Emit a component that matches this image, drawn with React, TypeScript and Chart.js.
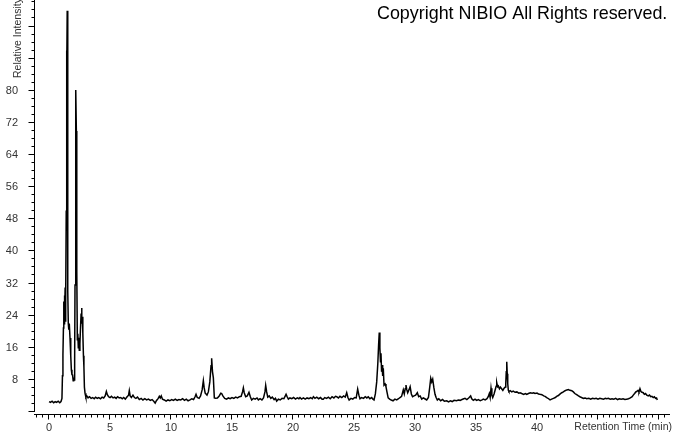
import { useEffect, useRef } from "react";
import { Chart, registerables } from "chart.js";

Chart.register(...registerables);

// Retention time (min)
const retentionTimes: number[] = [
  0.00, 0.12, 0.25, 0.38, 0.50, 0.62, 0.75, 0.88, 0.98, 1.06,
  1.10, 1.14, 1.18, 1.21, 1.23, 1.26, 1.29, 1.32, 1.35, 1.38,
  1.41, 1.44, 1.46, 1.49, 1.52, 1.55, 1.58, 1.62, 1.66, 1.72,
  1.78, 1.83, 1.88, 1.93, 1.98, 2.02, 2.06, 2.10, 2.13, 2.17,
  2.21, 2.24, 2.26, 2.29, 2.32, 2.36, 2.40, 2.44, 2.48, 2.53,
  2.58, 2.63, 2.67, 2.70, 2.73, 2.77, 2.82, 2.86, 2.90, 2.95,
  3.02, 3.10, 3.20, 3.32, 3.45, 3.58, 3.70, 3.82, 3.95, 4.08,
  4.22, 4.35, 4.48, 4.60, 4.70, 4.78, 4.88, 5.00, 5.12, 5.25,
  5.38, 5.50, 5.62, 5.75, 5.88, 6.00, 6.12, 6.25, 6.40, 6.52,
  6.58, 6.65, 6.75, 6.88, 7.00, 7.12, 7.25, 7.40, 7.55, 7.70,
  7.85, 8.00, 8.15, 8.30, 8.45, 8.60, 8.70, 8.80, 8.95, 9.04,
  9.12, 9.20, 9.30, 9.45, 9.60, 9.75, 9.90, 10.05, 10.20, 10.35,
  10.50, 10.65, 10.80, 10.95, 11.10, 11.25, 11.40, 11.56, 11.70, 11.85,
  11.97, 12.05, 12.15, 12.30, 12.42, 12.55, 12.65, 12.72, 12.80, 12.87,
  12.95, 13.06, 13.18, 13.28, 13.33, 13.40, 13.47, 13.55, 13.65, 13.80,
  13.95, 14.08, 14.15, 14.25, 14.40, 14.56, 14.70, 14.85, 15.00, 15.15,
  15.30, 15.45, 15.60, 15.75, 15.86, 15.93, 16.00, 16.12, 16.25, 16.39,
  16.50, 16.61, 16.75, 16.90, 17.05, 17.16, 17.30, 17.45, 17.58, 17.70,
  17.76, 17.84, 17.93, 18.05, 18.18, 18.30, 18.45, 18.56, 18.66, 18.80,
  18.95, 19.10, 19.25, 19.43, 19.52, 19.62, 19.75, 19.90, 20.05, 20.20,
  20.35, 20.48, 20.57, 20.70, 20.85, 21.00, 21.15, 21.30, 21.45, 21.58,
  21.67, 21.80, 21.95, 22.10, 22.25, 22.38, 22.48, 22.60, 22.75, 22.90,
  23.05, 23.20, 23.35, 23.48, 23.58, 23.72, 23.85, 24.00, 24.15, 24.28,
  24.40, 24.50, 24.60, 24.75, 24.90, 25.05, 25.18, 25.30, 25.40, 25.49,
  25.62, 25.78, 25.92, 26.05, 26.17, 26.30, 26.45, 26.55, 26.64, 26.75,
  26.86, 26.95, 27.02, 27.07, 27.12, 27.17, 27.21, 27.26, 27.30, 27.35,
  27.40, 27.46, 27.55, 27.62, 27.70, 27.80, 27.92, 28.05, 28.20, 28.35,
  28.50, 28.65, 28.77, 28.90, 29.04, 29.12, 29.20, 29.26, 29.33, 29.40,
  29.50, 29.60, 29.70, 29.80, 29.92, 30.05, 30.19, 30.30, 30.42, 30.55,
  30.68, 30.80, 30.96, 31.10, 31.20, 31.29, 31.37, 31.45, 31.55, 31.64,
  31.73, 31.83, 31.95, 32.10, 32.25, 32.40, 32.60, 32.75, 32.90, 33.05,
  33.20, 33.42, 33.55, 33.70, 33.85, 34.00, 34.10, 34.25, 34.40, 34.56,
  34.65, 34.78, 34.92, 35.05, 35.20, 35.35, 35.50, 35.60, 35.75, 35.90,
  36.00, 36.09, 36.16, 36.23, 36.30, 36.37, 36.48, 36.58, 36.65, 36.70,
  36.77, 36.83, 36.92, 37.00, 37.10, 37.20, 37.30, 37.40, 37.44, 37.48,
  37.52, 37.56, 37.60, 37.65, 37.70, 37.80, 37.93, 38.05, 38.20, 38.35,
  38.50, 38.61, 38.75, 38.90, 39.05, 39.16, 39.30, 39.45, 39.60, 39.72,
  39.84, 40.00, 40.12, 40.25, 40.40, 40.55, 40.66, 40.80, 40.95, 41.07,
  41.20, 41.35, 41.50, 41.61, 41.75, 41.90, 42.03, 42.16, 42.30, 42.45,
  42.57, 42.70, 42.85, 42.98, 43.10, 43.25, 43.40, 43.52, 43.65, 43.80,
  43.95, 44.07, 44.25, 44.40, 44.55, 44.70, 44.85, 45.00, 45.15, 45.30,
  45.45, 45.60, 45.71, 45.85, 46.00, 46.15, 46.30, 46.45, 46.60, 46.75,
  46.90, 47.05, 47.20, 47.35, 47.50, 47.65, 47.80, 47.89, 48.00, 48.10,
  48.17, 48.28, 48.36, 48.44, 48.52, 48.60, 48.71, 48.80, 48.90, 49.00,
  49.12, 49.22, 49.32, 49.42, 49.53, 49.62, 49.72, 49.80, 49.86,
];

// Relative intensity
const relativeIntensity: number[] = [
  2.6, 2.4, 2.7, 2.3, 2.6, 2.4, 2.7, 2.3, 2.6, 3.4,
  9.0, 14.2, 20.9, 27.5, 22.0, 29.0, 23.5, 31.0, 22.5, 28.0,
  50.0, 90.0, 84.0, 99.9, 56.5, 30.0, 22.0, 20.5, 22.0, 18.4,
  14.0, 10.5, 9.3, 9.2, 7.8, 8.6, 8.0, 13.0, 31.6, 55.0,
  80.2, 70.0, 67.3, 35.0, 18.0, 19.5, 16.0, 18.5, 15.4, 17.0,
  21.0, 24.5, 25.9, 22.0, 23.7, 19.7, 14.0, 11.2, 6.2, 4.7,
  3.7, 4.0, 3.5, 3.8, 3.4, 3.6, 3.3, 3.7, 3.4, 3.6,
  3.3, 3.7, 3.5, 4.0, 5.1, 4.3, 3.8, 3.6, 3.9, 3.5,
  3.7, 3.4, 3.8, 3.5, 3.6, 3.3, 3.6, 3.2, 3.8, 4.2,
  5.3, 4.0, 3.6, 4.2, 3.6, 3.4, 3.7, 3.1, 3.4, 3.0,
  3.3, 3.0, 3.2, 2.9, 3.1, 2.6, 2.2, 2.8, 3.4, 3.9,
  3.5, 4.0, 3.2, 3.0, 2.7, 3.0, 2.8, 3.1, 2.9, 3.2,
  2.9, 3.1, 3.0, 3.3, 2.9, 3.2, 2.8, 3.0, 3.3, 3.1,
  3.8, 4.4, 3.6, 3.4, 4.0, 5.5, 7.8, 6.0, 4.7, 4.5,
  4.2, 5.0, 7.5, 11.5, 13.4, 10.0, 8.5, 3.5, 3.4, 3.5,
  4.0, 4.7, 4.6, 4.0, 3.4, 3.2, 3.5, 3.3, 3.6, 3.4,
  3.7, 3.5, 3.8, 3.9, 5.0, 6.0, 4.8, 3.8, 4.0, 4.9,
  3.8, 3.0, 3.4, 3.2, 3.5, 3.0, 3.3, 3.0, 3.5, 5.0,
  6.6, 5.0, 3.7, 4.0, 3.4, 3.7, 3.1, 3.4, 2.7, 3.2,
  3.0, 3.4, 3.3, 4.4, 3.8, 3.2, 3.5, 3.3, 3.6, 3.2,
  3.5, 3.3, 3.6, 3.2, 3.5, 3.2, 3.5, 3.3, 3.6, 3.3,
  3.8, 3.4, 3.7, 3.3, 3.6, 3.2, 3.2, 3.6, 3.4, 3.7,
  3.3, 3.8, 3.5, 3.9, 3.8, 3.5, 3.9, 3.6, 4.0, 3.7,
  4.8, 3.6, 3.0, 3.4, 3.2, 3.6, 3.5, 5.7, 4.2, 3.3,
  3.6, 3.4, 3.8, 3.5, 3.8, 3.3, 3.6, 3.2, 3.0, 4.5,
  7.5, 12.0, 17.0, 19.8, 16.0, 12.5, 14.6, 10.0, 11.7, 9.0,
  10.9, 6.7, 7.0, 6.3, 5.0, 3.5, 3.2, 3.0, 2.8, 3.2,
  3.0, 3.3, 3.6, 3.9, 5.5, 4.5, 5.8, 6.7, 5.5, 4.8,
  5.5, 6.3, 4.5, 3.8, 4.0, 4.2, 4.8, 3.8, 4.0, 3.2,
  3.5, 3.3, 3.0, 3.6, 6.0, 8.4, 7.5, 8.2, 6.0, 4.4,
  3.6, 3.0, 3.3, 2.8, 3.1, 2.7, 2.8, 2.5, 2.8, 2.6,
  2.9, 2.8, 3.0, 2.9, 3.1, 3.3, 3.4, 3.1, 3.5, 4.0,
  3.3, 2.9, 3.2, 2.9, 3.1, 2.8, 3.0, 3.2, 3.0, 3.3,
  3.8, 4.6, 3.6, 5.9, 4.2, 3.6, 4.5, 5.6, 6.4, 7.3,
  6.3, 6.5, 5.8, 6.2, 5.8, 5.4, 5.9, 6.2, 7.1, 10.0,
  12.5, 9.5, 7.1, 5.4, 5.1, 5.3, 5.0, 5.2, 4.9, 5.0,
  4.7, 4.8, 4.6, 4.4, 4.6, 4.4, 4.6, 4.8, 4.7, 4.8,
  4.6, 4.7, 4.5, 4.4, 4.3, 4.0, 3.9, 3.6, 3.3, 3.0,
  3.2, 3.4, 3.6, 3.9, 4.1, 4.5, 4.8, 5.0, 5.3, 5.5,
  5.6, 5.4, 5.3, 5.0, 4.6, 4.3, 4.0, 3.8, 3.6, 3.4,
  3.5, 3.3, 3.4, 3.2, 3.4, 3.3, 3.4, 3.2, 3.4, 3.3,
  3.2, 3.4, 3.3, 3.4, 3.2, 3.3, 3.2, 3.4, 3.1, 3.3,
  3.2, 3.3, 3.1, 3.2, 3.3, 3.5, 3.8, 4.2, 4.6, 5.0,
  5.1, 5.4, 5.0, 5.8, 5.1, 4.9, 4.8, 4.4, 4.6, 4.2,
  4.0, 4.2, 3.8, 3.9, 3.6, 3.8, 3.4, 3.5, 3.0,
];

const xTickLabels: number[] = [0, 5, 10, 15, 20, 25, 30, 35, 40];
const yTickLabels: number[] = [8, 16, 24, 32, 40, 48, 56, 64, 72, 80];

const xAxisTitle = "Retention Time (min)";
const yAxisTitle = "Relative Intensity";
const copyrightText = "Copyright NIBIO All Rights reserved.";

const FONT = '"Liberation Sans", Arial, sans-serif';

const axesPlugin = {
  id: "chromAxes",
  afterDraw(chart: any) {
    const { ctx, chartArea } = chart;
    const xs = chart.scales.x;
    const ys = chart.scales.y;
    ctx.save();
    ctx.strokeStyle = "#000";
    ctx.lineWidth = 1;

    // y axis line
    const axX = chartArea.left - 0.5;
    ctx.beginPath();
    ctx.moveTo(axX, 0);
    ctx.lineTo(axX, chartArea.bottom);
    ctx.stroke();

    // y ticks every 2, longer every 8
    for (let v = 0; v <= ys.max; v += 2) {
      const py = Math.round(ys.getPixelForValue(v)) - 0.5;
      const len = v % 8 === 0 ? 6 : 3;
      ctx.beginPath();
      ctx.moveTo(axX - len, py);
      ctx.lineTo(axX, py);
      ctx.stroke();
    }

    // x axis line
    const axY = chartArea.bottom + 2.5;
    ctx.beginPath();
    ctx.moveTo(chartArea.left - 1, axY);
    ctx.lineTo(chartArea.right + 1, axY);
    ctx.stroke();

    // x ticks every 0.5, longer every 5
    for (let i = 0; i <= 102; i++) {
      const v = i * 0.5;
      if (v > xs.max) break;
      const px = Math.round(xs.getPixelForValue(v)) - 0.5;
      const len = i % 10 === 0 ? 5 : 3;
      ctx.beginPath();
      ctx.moveTo(px, axY);
      ctx.lineTo(px, axY + len);
      ctx.stroke();
    }
    for (let v = -0.5; v >= xs.min; v -= 0.5) {
      const px = Math.round(xs.getPixelForValue(v)) - 0.5;
      ctx.beginPath();
      ctx.moveTo(px, axY);
      ctx.lineTo(px, axY + 3);
      ctx.stroke();
    }

    // tick labels
    ctx.fillStyle = "#333";
    ctx.font = `11px ${FONT}`;
    ctx.textAlign = "right";
    ctx.textBaseline = "middle";
    yTickLabels.forEach((v) => {
      ctx.fillText(String(v), 18, ys.getPixelForValue(v));
    });
    ctx.textAlign = "center";
    xTickLabels.forEach((v) => {
      ctx.fillText(String(v), xs.getPixelForValue(v), 428);
    });

    // axis titles
    ctx.font = `10.5px ${FONT}`;
    ctx.textAlign = "right";
    ctx.fillText(xAxisTitle, 672, 427.5);
    ctx.save();
    ctx.translate(18, 78);
    ctx.rotate(-Math.PI / 2);
    ctx.textAlign = "left";
    ctx.fillText(yAxisTitle, 0, 0);
    ctx.restore();

    // copyright
    ctx.fillStyle = "#000";
    ctx.font = `17.9px ${FONT}`;
    ctx.textAlign = "left";
    ctx.textBaseline = "alphabetic";
    ctx.fillText(copyrightText, 377, 18.5);

    ctx.restore();
  },
};

export default function App() {
  const canvasRef = useRef<HTMLCanvasElement | null>(null);

  useEffect(() => {
    if (!canvasRef.current) return;
    const points = retentionTimes.map((t, i) => ({ x: t, y: relativeIntensity[i] }));
    const chart = new Chart(canvasRef.current, {
      type: "line",
      data: {
        datasets: [
          {
            data: points,
            borderColor: "#000",
            borderWidth: 1.5,
            pointRadius: 0,
            tension: 0,
            fill: false,
          },
        ],
      },
      options: {
        animation: false,
        responsive: false,
        maintainAspectRatio: false,
        events: [],
        layout: { padding: { left: 35, right: 4, top: 0, bottom: 21 } },
        plugins: {
          legend: { display: false },
          tooltip: { enabled: false },
          title: { display: false },
        },
        scales: {
          x: { type: "linear", min: -1.15, max: 50.82, display: false },
          y: { type: "linear", min: 0, max: 102.6, display: false },
        },
      },
      plugins: [axesPlugin],
    });
    return () => chart.destroy();
  }, []);

  return (
    <div style={{ position: "absolute", left: 0, top: 0, width: 673, height: 433, background: "#fff" }}>
      <canvas ref={canvasRef} width={673} height={433} style={{ display: "block", width: 673, height: 433 }} />
    </div>
  );
}
